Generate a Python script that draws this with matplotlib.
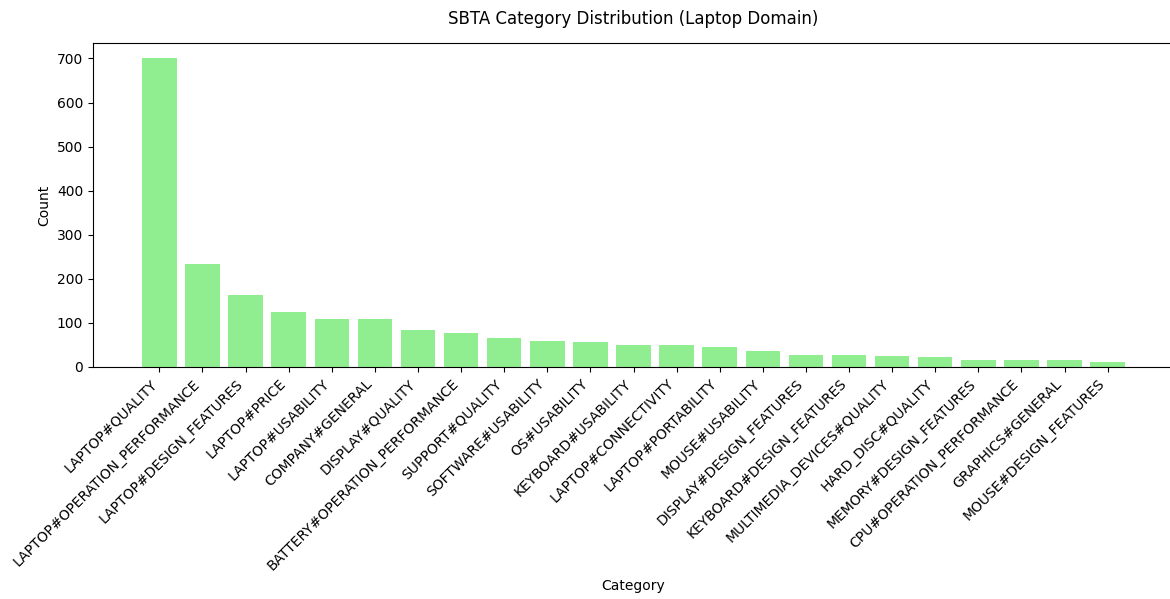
import matplotlib
matplotlib.use("Agg")
import matplotlib.pyplot as plt

categories = [
    "LAPTOP#QUALITY", "LAPTOP#OPERATION_PERFORMANCE", "LAPTOP#DESIGN_FEATURES",
    "LAPTOP#PRICE", "LAPTOP#USABILITY", "COMPANY#GENERAL", "DISPLAY#QUALITY",
    "BATTERY#OPERATION_PERFORMANCE", "SUPPORT#QUALITY", "SOFTWARE#USABILITY",
    "OS#USABILITY", "KEYBOARD#USABILITY", "LAPTOP#CONNECTIVITY",
    "LAPTOP#PORTABILITY", "MOUSE#USABILITY", "DISPLAY#DESIGN_FEATURES",
    "KEYBOARD#DESIGN_FEATURES", "MULTIMEDIA_DEVICES#QUALITY", "HARD_DISC#QUALITY",
    "MEMORY#DESIGN_FEATURES", "CPU#OPERATION_PERFORMANCE", "GRAPHICS#GENERAL",
    "MOUSE#DESIGN_FEATURES",
]
counts = [700, 233, 163, 124, 110, 108, 83, 76, 65, 58, 56, 51, 49, 45, 36,
          27, 27, 24, 22, 17, 15, 15, 11]

fig = plt.figure(figsize=(11.7, 5.99), dpi=100)
ax = fig.add_axes([93/1170, 1-367/599, (1174-93)/1170, (367-43)/599])
ax.bar(categories, counts, color="lightgreen")
ax.set_title("SBTA Category Distribution (Laptop Domain)", fontsize=12, pad=14)
ax.set_xlabel("Category")
ax.set_ylabel("Count")
ax.set_xticks(range(len(categories)))
ax.set_xticklabels(categories, rotation=45, ha="right")
fig.savefig("out.png", dpi=100)
